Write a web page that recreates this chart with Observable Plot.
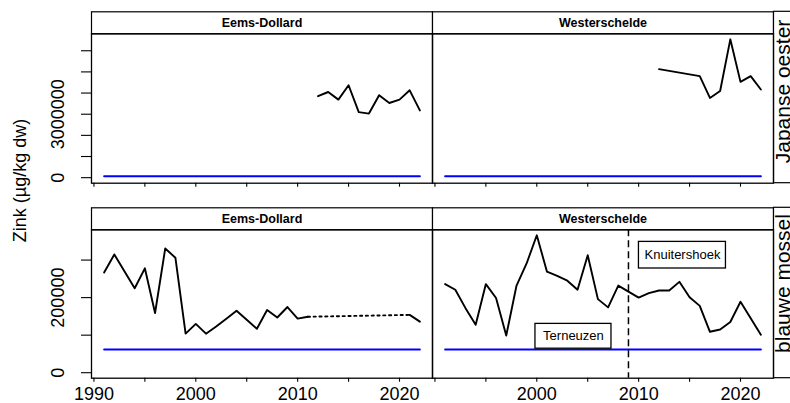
<!DOCTYPE html>
<html><head><meta charset="utf-8">
<script src="https://cdn.jsdelivr.net/npm/d3@7"></script>
<script src="https://cdn.jsdelivr.net/npm/@observablehq/plot@0.6"></script>
<style>
body{margin:0;background:#fff;}
#chart{position:relative;width:790px;height:403px;overflow:hidden;}
#chart svg{display:block;}
</style></head><body><div id="chart"></div>
<script>
// ---------- data ----------
const sites = ["Eems-Dollard", "Westerschelde"];
const species = ["Japanse oester", "blauwe mossel"];
const yLabel = "Zink (µg/kg dw)";

// Japanse oester
const oesterEemsYears = [2012, 2013, 2014, 2015, 2016, 2017, 2018, 2019, 2020, 2021, 2022];
const oesterEemsZn = [3850000, 4050000, 3690000, 4370000, 3100000, 3030000, 3900000, 3530000, 3690000, 4130000, 3180000];
const oesterWestYears = [2012, 2016, 2017, 2018, 2019, 2020, 2021, 2022];
const oesterWestZn = [5130000, 4800000, 3770000, 4100000, 6540000, 4530000, 4800000, 4170000];

// blauwe mossel
const mosselEemsYears = [1991, 1992, 1994, 1995, 1996, 1997, 1998, 1999, 2000, 2001, 2002, 2003, 2004, 2005, 2006, 2007, 2008, 2009, 2010, 2011];
const mosselEemsZn = [267000, 315000, 225000, 278000, 159000, 331000, 306000, 104000, 130000, 104000, 123000, 144000, 165000, 141000, 117000, 167000, 147000, 175000, 144000, 149000];
const mosselEemsLateYears = [2021, 2022];
const mosselEemsLateZn = [154000, 136000];
const mosselWestYears = [1991, 1992, 1993, 1994, 1995, 1996, 1997, 1998, 1999, 2000, 2001, 2002, 2003, 2004, 2005, 2006, 2007, 2008, 2009, 2010, 2011, 2012, 2013, 2014, 2015, 2016, 2017, 2018, 2019, 2020, 2022];
const mosselWestZn = [236000, 221000, 172000, 128000, 236000, 199000, 99000, 231000, 291000, 366000, 269000, 258000, 245000, 221000, 313000, 196000, 174000, 232000, 216000, 200000, 212000, 219000, 219000, 242000, 201000, 178000, 109000, 115000, 135000, 189000, 101000];

// reference level (blue line)
const refYears = [1991, 2022];
const refZn = [62000, 62000];

// station change (Westerschelde, blauwe mossel)
const changeYear = [2009];
const stationNames = ["Terneuzen", "Knuitershoek"];
const stationYears = [2003.6, 2014.3];
const stationZn = [97000, 313000];

// ticks
const xTicks = [1990, 1995, 2000, 2005, 2010, 2015, 2020];
const xLabelsLeft = [1990, 2000, 2010, 2020];
const xLabelsRight = [2000, 2010, 2020];
const oesterYTicks = [0, 1000000, 2000000, 3000000, 4000000, 5000000, 6000000];
const oesterYLabels = [0, 3000000];
const mosselYTicks = [0, 100000, 200000, 300000];
const mosselYLabels = [0, 200000];

// ---------- helpers ----------
const rows = (site, years, zn) => years.map((year, i) => ({site, year, zn: zn[i]}));
const W = 790, ML = 90, MR = 17, STRIP = 22;
const facetW = (W - ML - MR) / 2;
const font = "'Liberation Sans', Arial, Helvetica, sans-serif";

const allYears = [...oesterEemsYears, ...oesterWestYears, ...mosselEemsYears, ...mosselEemsLateYears, ...mosselWestYears, ...refYears];
const xExt = d3.extent(allYears);
const xPad = 0.04 * (xExt[1] - xExt[0]);
const xDomain = [xExt[0] - xPad, xExt[1] + xPad];
const yDom = (vals) => { const m = d3.max(vals); return [-0.04 * m, 1.04 * m]; };

function panelRow({sp, height, marginTop, marginBottom, yDomain, yTicks, yLabels, series, dashed, extra, xLabels, showYLabel, stripDy}) {
  const panelH = height - marginTop - marginBottom;
  const refData = sites.flatMap(s => rows(s, refYears, refZn));
  const yLab = yLabels.map(v => ({site: sites[0], zn: v, t: String(v)}));
  const marks = [
    Plot.frame({insetTop: -STRIP, insetBottom: panelH, fill: "white", stroke: "black", strokeWidth: 1.2}),
    Plot.text(sites, {fx: d => d, text: d => d, frameAnchor: "top", dy: -STRIP / 2, fontWeight: "bold", fontSize: 12.5, lineAnchor: "middle"}),
    Plot.rect([sp], {fx: () => sites[1], insetLeft: facetW, insetRight: -40, insetTop: -STRIP, fill: "white", stroke: "black", strokeWidth: 1.2}),
    Plot.text([sp], {fx: () => sites[1], text: d => d, frameAnchor: "right", textAnchor: "middle", dx: 10, dy: stripDy, rotate: -90, fontSize: 21}),
    Plot.frame({stroke: "black", strokeWidth: 1.3}),
    Plot.axisY({ticks: yTicks, tickSize: 10, tickFormat: () => "", label: null, strokeWidth: 1.1}),
    Plot.text(yLab, {fx: "site", y: "zn", text: "t", frameAnchor: "left", textAnchor: "middle", dx: -33, rotate: -90, fontSize: 18}),
    Plot.axisX({ticks: xTicks, tickSize: 4, tickFormat: () => "", label: null, strokeWidth: 1.1}),
    Plot.line(refData, {fx: "site", x: "year", y: "zn", z: "site", stroke: "#0000ff", strokeWidth: 2}),
    ...extra,
    ...series.map(d => Plot.line(d, {fx: "site", x: "year", y: "zn", stroke: "black", strokeWidth: 1.9})),
    ...dashed.map(d => Plot.line(d, {fx: "site", x: "year", y: "zn", stroke: "black", strokeWidth: 1.9, strokeDasharray: "2.2,3.6"}))
  ];
  if (xLabels) {
    const xl = [...xLabelsLeft.map(y => ({site: sites[0], year: y})), ...xLabelsRight.map(y => ({site: sites[1], year: y}))];
    marks.push(Plot.text(xl, {fx: "site", x: "year", text: d => String(d.year), frameAnchor: "bottom", dy: 9.5, lineAnchor: "top", fontSize: 18}));
  }
  if (showYLabel) {
    marks.push(Plot.text([yLabel], {fx: () => sites[0], text: d => d, frameAnchor: "left", textAnchor: "middle", dx: -71, dy: 72, rotate: -90, fontSize: 18}));
  }
  return Plot.plot({
    width: W, height, marginLeft: ML, marginRight: MR, marginTop, marginBottom,
    style: {fontFamily: font, overflow: "visible", background: "transparent", color: "black"},
    fx: {domain: sites, axis: null, padding: 0},
    x: {domain: xDomain, axis: null},
    y: {domain: yDomain, axis: null},
    marks
  });
}

const topRow = panelRow({
  sp: species[0], height: 201, marginTop: 33.3, marginBottom: 18.3,
  yDomain: yDom([...oesterEemsZn, ...oesterWestZn, ...refZn]),
  yTicks: oesterYTicks, yLabels: oesterYLabels,
  series: [rows(sites[0], oesterEemsYears, oesterEemsZn), rows(sites[1], oesterWestYears, oesterWestZn)],
  dashed: [], extra: [], xLabels: false, showYLabel: true, stripDy: -17
});

const gap = [
  {site: sites[0], year: mosselEemsYears[mosselEemsYears.length - 1], zn: mosselEemsZn[mosselEemsZn.length - 1]},
  {site: sites[0], year: mosselEemsLateYears[0], zn: mosselEemsLateZn[0]}
];
const stations = stationNames.map((n, i) => ({site: sites[1], name: n, year: stationYears[i], zn: stationZn[i]}));
const bottomRow = panelRow({
  sp: species[1], height: 202, marginTop: 28.3, marginBottom: 25.3,
  yDomain: yDom([...mosselEemsZn, ...mosselEemsLateZn, ...mosselWestZn, ...refZn]),
  yTicks: mosselYTicks, yLabels: mosselYLabels,
  series: [rows(sites[0], mosselEemsYears, mosselEemsZn), rows(sites[0], mosselEemsLateYears, mosselEemsLateZn), rows(sites[1], mosselWestYears, mosselWestZn)],
  dashed: [gap],
  extra: [
    Plot.ruleX(changeYear.map(y => ({site: sites[1], year: y})), {fx: "site", x: "year", stroke: "black", strokeWidth: 1.5, strokeDasharray: "7,4"}),
    Plot.rect([stations[0]], {fx: "site", x1: "year", x2: "year", y1: "zn", y2: "zn", insetLeft: -38, insetRight: -38, insetTop: -12.4, insetBottom: -12.4, fill: "white", stroke: "black", strokeWidth: 1.3}),
    Plot.rect([stations[1]], {fx: "site", x1: "year", x2: "year", y1: "zn", y2: "zn", insetLeft: -43.5, insetRight: -43.5, insetTop: -13.3, insetBottom: -13.3, fill: "white", stroke: "black", strokeWidth: 1.3}),
    Plot.text(stations, {fx: "site", x: "year", y: "zn", text: "name", fontSize: 13})
  ],
  xLabels: true, showYLabel: false, stripDy: -20.5
});

const chart = document.getElementById("chart");
chart.appendChild(topRow);
chart.appendChild(bottomRow);
</script></body></html>
